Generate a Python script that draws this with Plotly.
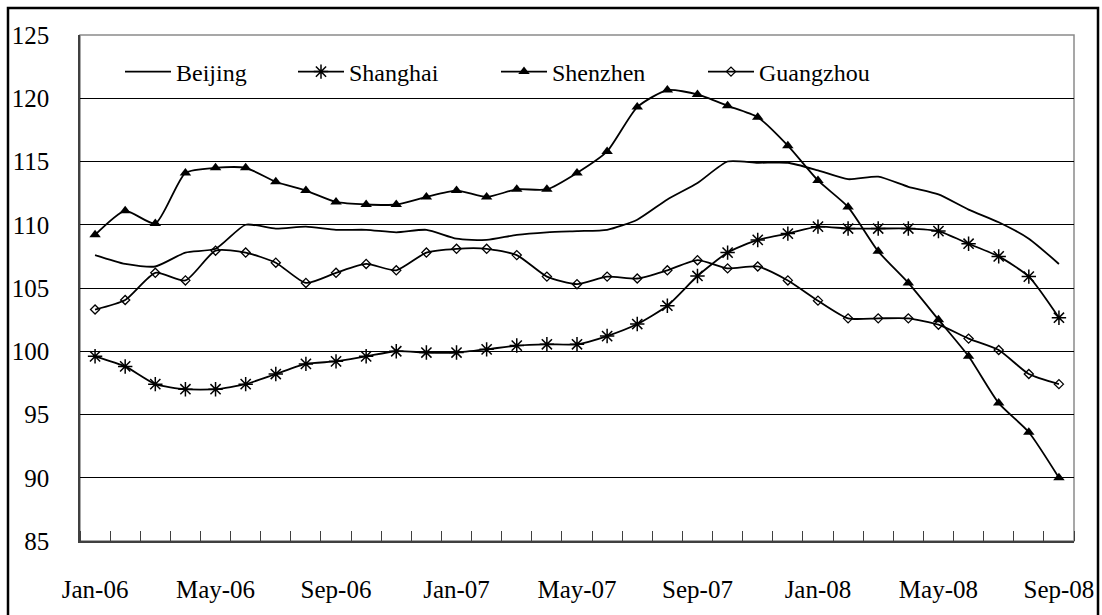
import plotly.graph_objects as go

months = ["Jan-06","Feb-06","Mar-06","Apr-06","May-06","Jun-06","Jul-06","Aug-06","Sep-06","Oct-06","Nov-06","Dec-06",
          "Jan-07","Feb-07","Mar-07","Apr-07","May-07","Jun-07","Jul-07","Aug-07","Sep-07","Oct-07","Nov-07","Dec-07",
          "Jan-08","Feb-08","Mar-08","Apr-08","May-08","Jun-08","Jul-08","Aug-08","Sep-08"]

beijing = [107.6,106.9,106.7,107.8,108.1,110.0,109.7,109.85,109.6,109.6,109.4,109.6,
           108.9,108.8,109.2,109.4,109.5,109.6,110.4,112.0,113.3,115.0,114.9,114.9,
           114.3,113.6,113.8,113.0,112.4,111.2,110.2,108.9,106.9]
shanghai = [99.6,98.8,97.4,97.0,97.0,97.4,98.2,99.0,99.2,99.6,100.0,99.9,
            99.9,100.15,100.45,100.55,100.55,101.2,102.15,103.6,105.95,107.8,108.8,109.3,
            109.85,109.7,109.7,109.7,109.5,108.5,107.5,105.9,102.65]
shenzhen = [109.2,111.1,110.1,114.1,114.5,114.5,113.4,112.7,111.8,111.6,111.6,112.2,
            112.7,112.2,112.8,112.8,114.1,115.8,119.3,120.65,120.3,119.4,118.5,116.25,
            113.5,111.4,107.9,105.4,102.5,99.6,95.9,93.6,90.0]
guangzhou = [103.3,104.05,106.2,105.6,107.95,107.8,107.0,105.4,106.2,106.9,106.4,107.8,
             108.1,108.1,107.6,105.9,105.3,105.9,105.75,106.4,107.2,106.55,106.7,105.6,
             104.0,102.6,102.6,102.6,102.1,101.0,100.1,98.2,97.4]

xidx = list(range(len(months)))
label_idx = xidx[::4]
label_txt = months[::4]

W, H = 1102, 615
ml, mr, mt, mb = 80, 28, 35, 74
pw, ph = W - ml - mr, H - mt - mb

def px_x(p):
    return (p - ml) / pw

def px_y(p):
    return 1 - (p - mt) / ph

FONT = "Liberation Serif"

fig = go.Figure()
fig.add_trace(go.Scatter(x=xidx, y=beijing, name="Beijing", mode="lines",
                         line=dict(color="black", width=1.8, shape="spline", smoothing=0.6),
                         legendwidth=112))
fig.add_trace(go.Scatter(x=xidx, y=shanghai, name="Shanghai", mode="lines+markers",
                         line=dict(color="black", width=1.8, shape="spline", smoothing=0.6),
                         marker=dict(symbol="asterisk-open", size=12, color="black",
                                     line=dict(color="black", width=1.5)),
                         legendwidth=142))
fig.add_trace(go.Scatter(x=xidx, y=shenzhen, name="Shenzhen", mode="lines+markers",
                         line=dict(color="black", width=1.8, shape="spline", smoothing=0.6),
                         marker=dict(symbol="triangle-up", size=10, color="black"),
                         legendwidth=146))
fig.add_trace(go.Scatter(x=xidx, y=guangzhou, name="Guangzhou", mode="lines+markers",
                         line=dict(color="black", width=1.8, shape="spline", smoothing=0.6),
                         marker=dict(symbol="diamond-open", size=7, color="black",
                                     line=dict(color="black", width=1.3)),
                         legendwidth=146))

# plot-area border (gray) and outer chart border (black)
fig.add_shape(type="rect", xref="paper", yref="paper", x0=0, x1=1, y0=0, y1=1,
              line=dict(color="#8a8a8a", width=1.5), layer="below")
fig.add_shape(type="rect", xref="paper", yref="paper",
              x0=px_x(8), x1=px_x(1098), y0=px_y(630), y1=px_y(8),
              line=dict(color="black", width=2.5))

fig.update_layout(
    width=W, height=H,
    margin=dict(l=ml, r=mr, t=mt, b=mb, autoexpand=False),
    paper_bgcolor="white", plot_bgcolor="white",
    font=dict(family=FONT, size=24, color="black"),
    showlegend=True,
    legend=dict(orientation="h", x=px_x(120), y=px_y(72), xanchor="left", yanchor="middle",
                bgcolor="rgba(0,0,0,0)", borderwidth=0, itemwidth=46,
                font=dict(family=FONT, size=24, color="black")),
    xaxis=dict(range=[-0.5, len(months) - 0.5], tickmode="array", tickvals=label_idx,
               ticktext=label_txt, ticks="", showgrid=False, zeroline=False,
               showline=True, linecolor="#404040", linewidth=2, automargin=False,
               ticklabelstandoff=25,
               minor=dict(tickmode="linear", tick0=-0.5, dtick=1, ticks="inside",
                          ticklen=10, tickcolor="#404040", tickwidth=1, showgrid=False),
               tickfont=dict(family=FONT, size=25)),
    yaxis=dict(range=[85, 125], tickmode="linear", tick0=85, dtick=5, ticks="",
               showgrid=True, gridcolor="black", gridwidth=1, zeroline=False,
               showline=True, linecolor="#404040", linewidth=1.5, automargin=False,
               ticklabelstandoff=24, tickfont=dict(family=FONT, size=25)),
)

fig.write_html("out.html", config={"displayModeBar": False},
               post_script="document.body.style.margin='0';document.body.style.padding='0';")
